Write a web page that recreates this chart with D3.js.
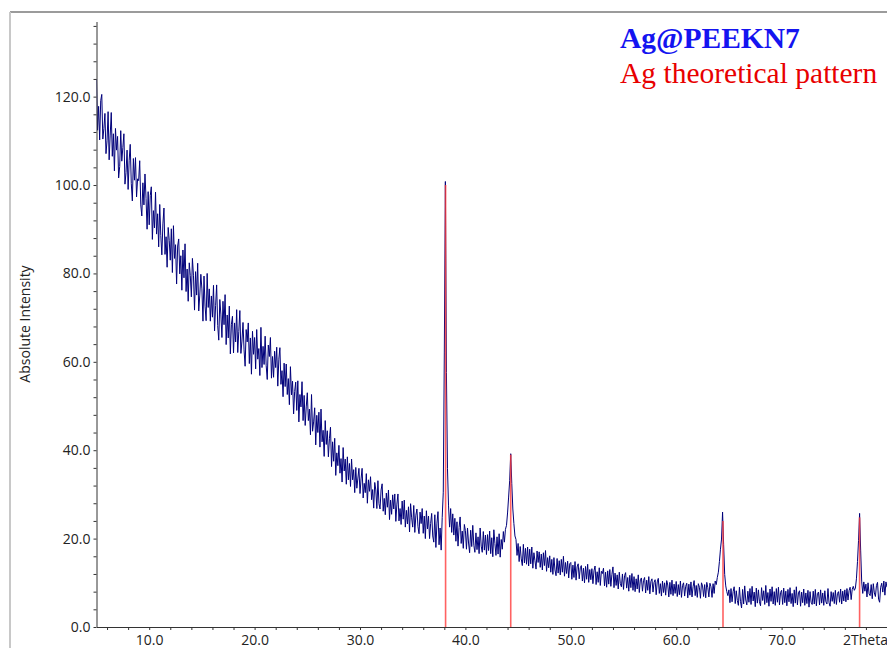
<!DOCTYPE html>
<html>
<head>
<meta charset="utf-8">
<script src="https://cdn.jsdelivr.net/npm/d3@7"></script>
<style>
  body { margin: 0; background: #fff; }
  svg { display: block; }
</style>
</head>
<body>
<div id="chart"></div>
<script>
// measured pattern, 2theta from 5.0 to 80.0 in 0.1 steps
var startAngle = 5.0,
    stepAngle  = 0.1;

var intensity = [
  124.0,112.4,117.8,110.2,119.1,120.5,110.4,112.8,116.2,107.1,
  110.0,116.6,105.7,111.3,116.4,106.5,111.6,103.2,112.8,107.9,
  111.0,101.6,104.2,112.3,105.4,108.5,111.6,100.2,102.8,107.9,
  99.0,105.6,109.2,100.3,96.4,106.0,101.1,106.2,97.3,101.4,
  101.0,105.5,95.5,93.0,100.5,95.5,102.5,97.0,90.0,98.5,
  91.0,97.6,99.6,87.7,94.2,90.3,98.4,88.9,93.5,86.0,
  95.6,88.6,84.2,91.2,94.8,84.3,88.3,81.4,90.4,87.5,
  83.0,90.1,80.2,90.8,83.4,86.5,77.6,86.2,87.8,79.9,
  84.0,76.2,85.3,79.0,86.7,75.9,81.0,73.7,82.4,79.5,
  74.7,83.4,79.6,71.7,80.4,75.1,82.3,71.5,75.1,79.8,
  76.5,69.2,79.4,72.6,69.3,80.0,72.3,76.5,69.2,74.9,
  70.1,77.3,67.0,72.7,77.4,68.2,64.9,74.1,70.8,65.5,
  73.7,68.4,75.2,63.9,70.6,65.4,72.6,61.8,68.5,70.3,
  62.0,68.8,64.5,71.8,62.1,66.9,71.6,61.9,64.7,68.9,
  62.7,59.0,67.3,64.5,68.8,59.6,65.4,57.2,66.9,61.7,
  65.5,58.4,67.3,60.6,63.0,56.9,67.8,58.7,63.5,59.4,
  65.8,59.1,56.0,63.8,61.2,65.5,56.3,61.2,56.5,62.4,
  58.7,63.3,54.5,60.6,63.2,54.9,58.0,52.1,59.7,54.4,
  59.5,52.6,56.2,50.3,58.9,52.5,55.6,48.2,53.3,55.4,
  49.0,55.7,46.4,52.6,49.8,55.5,46.7,52.4,45.6,49.8,
  53.0,46.7,49.3,43.5,52.6,44.3,46.4,49.6,41.2,47.9,
  44.0,48.6,40.7,49.3,41.9,44.5,38.6,46.7,41.3,44.4,
  38.5,42.6,45.2,36.3,41.9,37.5,42.7,34.3,39.4,36.5,
  41.1,34.8,38.1,32.8,40.6,35.3,38.0,32.3,38.5,33.3,
  37.0,31.8,38.0,33.3,35.6,30.4,36.1,31.4,33.7,35.9,
  30.2,33.5,35.9,29.2,32.5,30.4,34.7,28.0,33.3,30.7,
  34.0,28.8,31.1,26.9,32.7,31.0,26.8,33.1,27.9,26.7,
  31.0,32.4,26.2,29.1,25.4,30.3,27.1,31.0,24.3,28.7,
  25.5,29.9,26.7,30.1,23.9,27.8,30.1,24.0,26.8,23.2,
  28.5,24.4,28.7,22.6,26.4,23.3,27.2,21.5,27.9,24.7,
  22.6,27.5,21.4,25.3,26.7,22.7,21.1,26.0,23.4,26.8,
  21.2,25.1,20.0,26.3,22.2,25.1,20.0,23.4,25.7,20.6,
  19.2,25.4,18.0,23.5,26.1,18.6,22.4,17.4,24.8,30.5,
  62.0,100.8,57.6,35.9,27.4,22.6,26.8,21.4,25.6,20.8,
  24.6,19.4,23.8,18.3,22.5,24.9,18.9,21.7,17.8,23.2,
  21.8,17.6,22.4,19.0,16.8,21.9,18.2,23.0,18.5,16.9,
  21.3,17.5,20.4,16.6,22.4,18.3,16.9,21.6,17.4,20.8,
  16.4,20.9,17.3,21.7,16.6,20.2,15.9,22.0,18.9,16.2,
  20.4,16.5,21.1,15.8,19.8,17.6,21.6,19.2,22.1,23.0,
  25.8,29.4,33.1,39.2,32.5,26.7,23.4,20.6,19.8,16.2,
  18.9,14.8,18.2,15.4,13.9,18.7,14.5,17.8,14.2,18.1,
  13.8,17.6,14.3,18.1,13.3,16.8,15.0,13.1,17.2,14.6,
  17.0,13.5,16.5,12.9,16.8,13.9,17.3,12.6,15.7,13.4,
  16.1,12.4,15.3,11.9,15.7,12.9,11.6,15.5,12.2,15.0,
  11.8,15.3,12.4,16.0,11.5,14.6,12.1,14.9,11.1,14.3,
  14.6,10.8,14.0,11.2,14.8,10.6,13.6,14.3,10.9,13.4,
  13.9,10.4,13.3,10.0,13.7,10.8,14.2,10.1,13.0,10.7,
  13.2,9.8,12.7,13.8,9.6,12.5,10.1,13.4,9.4,12.6,
  12.1,13.3,9.3,12.4,9.0,12.7,9.7,13.0,9.2,11.9,
  13.6,8.9,12.2,9.4,11.8,8.6,12.4,9.8,9.1,12.0,
  8.5,11.6,12.3,8.8,11.2,8.1,11.7,8.9,12.1,8.3,
  11.4,8.0,10.9,8.6,11.8,7.8,10.7,11.1,8.1,10.5,
  11.2,7.7,10.6,8.3,11.4,7.5,10.3,10.9,7.9,10.1,
  10.7,7.3,10.2,11.0,7.6,9.8,7.0,10.4,7.8,10.0,
  7.2,10.5,9.5,6.8,10.1,7.4,10.6,7.1,9.7,7.6,
  10.3,6.9,9.6,7.3,10.4,6.7,9.4,10.0,7.0,9.2,
  9.9,6.6,9.7,7.2,10.2,6.8,9.1,10.5,7.1,9.4,
  6.7,9.8,9.0,6.5,10.0,9.3,6.9,9.6,6.6,10.1,
  8.9,6.8,9.9,9.1,6.7,9.8,7.6,10.4,9.6,11.2,
  12.4,14.8,17.6,19.9,26.0,18.6,11.9,9.3,8.0,7.1,
  8.4,5.5,8.7,5.7,8.0,9.1,5.3,8.2,6.0,4.9,
  9.0,5.8,4.3,8.5,5.2,9.3,6.1,5.0,8.1,5.6,
  8.7,5.1,9.2,5.9,7.9,4.6,8.8,5.4,8.4,5.7,
  4.8,8.9,6.0,8.2,5.1,9.4,5.5,7.8,4.7,8.6,
  5.8,9.1,5.2,8.0,4.9,8.7,5.6,9.0,5.0,7.8,
  8.3,5.1,8.8,5.5,8.1,4.8,8.5,5.7,8.9,5.3,
  7.6,4.6,8.4,5.4,9.1,5.0,7.7,8.2,4.7,7.9,
  5.5,8.6,4.9,7.7,5.3,8.3,4.5,8.0,5.6,5.1,
  8.1,5.2,8.5,4.8,7.6,7.9,5.0,8.4,5.4,7.7,
  4.9,8.2,5.7,5.2,8.7,5.5,4.7,8.0,5.8,7.8,
  5.3,8.3,5.1,7.6,8.0,5.6,8.6,5.2,8.1,5.9,
  8.4,5.7,8.7,6.1,8.2,9.0,6.2,8.5,9.2,8.3,
  8.8,10.9,14.8,19.6,25.7,17.4,10.2,7.6,10.2,8.1,
  9.7,6.8,10.0,7.5,7.1,9.6,6.4,9.8,7.7,6.9,
  9.4,10.1,6.3,5.6,9.0,9.9,7.9,10.4,7.2,10.2,
  9.0
];

// Ag reference lines
var refAngles     = [38.12, 44.30, 64.44, 77.40];
var refIntensity  = [100, 39, 24, 24.8];

var xTickValues = d3.range(6, 81, 2);
var xTickLabels = [10, 20, 30, 40, 50, 60, 70];
var yTickValues = d3.range(0, 137, 4);
var yTickLabels = [0, 20, 40, 60, 80, 100, 120];

var legendLabels = ["Ag@PEEKN7", "Ag theoretical pattern"];

var w = 887, h = 648,
    x0 = 96.5, x1 = 887, y0 = 627, y1 = 21.5;

var data = intensity.map(function(v, i) { return [startAngle + i * stepAngle, v]; });

var x = d3.scaleLinear().domain([5, 80]).range([x0, x1]),
    y = d3.scaleLinear().domain([0, 137]).range([y0, y1]);

var vis = d3.select("#chart")
  .append("svg")
  .attr("width", w)
  .attr("height", h);

// frame of the exported picture
vis.append("line")
  .attr("x1", 10).attr("y1", 12).attr("x2", w).attr("y2", 12)
  .style("stroke", "#7a7a7a").style("stroke-width", 1.5);
vis.append("line")
  .attr("x1", 10).attr("y1", 12).attr("x2", 10).attr("y2", h)
  .style("stroke", "#c8c8c8").style("stroke-width", 2);

vis.append("clipPath").attr("id", "plotclip")
  .append("rect")
  .attr("x", x0).attr("y", 0)
  .attr("width", x1 - x0).attr("height", y0);

var line = d3.line()
  .x(function(d) { return x(d[0]); })
  .y(function(d) { return y(d[1]); });

vis.append("path")
  .attr("clip-path", "url(#plotclip)")
  .attr("d", line(data))
  .style("fill", "none")
  .style("stroke", "#00007a")
  .style("stroke-width", 1)
  .style("stroke-linejoin", "miter");

vis.selectAll(".ref")
  .data(refAngles)
  .enter()
  .append("line")
  .attr("class", "ref")
  .attr("x1", function(d) { return x(d); })
  .attr("x2", function(d) { return x(d); })
  .attr("y1", y(0))
  .attr("y2", function(d, i) { return y(refIntensity[i]); })
  .style("stroke", "#ff3b3b")
  .style("stroke-opacity", 0.8)
  .style("stroke-width", 1.6);

var tickFont = "14px 'Open Sans'";

var xAxis = d3.axisBottom(x)
  .tickValues(xTickValues)
  .tickSizeInner(3)
  .tickSizeOuter(0)
  .tickPadding(5)
  .tickFormat(function(d) { return xTickLabels.indexOf(d) >= 0 ? d3.format(".1f")(d) : ""; });

var gx = vis.append("g")
  .attr("transform", "translate(0," + y0 + ")")
  .call(xAxis);

var yAxis = d3.axisLeft(y)
  .tickValues(yTickValues)
  .tickSizeInner(3)
  .tickSizeOuter(0)
  .tickPadding(3)
  .tickFormat(function(d) { return yTickLabels.indexOf(d) >= 0 ? d3.format(".1f")(d) : ""; });

var gy = vis.append("g")
  .attr("transform", "translate(" + x0 + ",0)")
  .call(yAxis);

[gx, gy].forEach(function(g) {
  g.select(".domain").style("stroke", "#333");
  g.selectAll(".tick line").style("stroke", "#333");
  g.selectAll(".tick text").style("font", tickFont).style("fill", "#222");
});

vis.append("text")
  .attr("x", 843)
  .attr("y", 645)
  .style("font", tickFont)
  .style("fill", "#222")
  .text("2Theta");

vis.append("text")
  .attr("transform", "translate(29.5,324) rotate(-90)")
  .attr("text-anchor", "middle")
  .style("font", tickFont)
  .style("fill", "#222")
  .text("Absolute Intensity");

vis.append("text")
  .attr("x", 620).attr("y", 48)
  .style("font", "bold 29.5px 'Liberation Serif'")
  .style("fill", "#1414f0")
  .text(legendLabels[0]);

vis.append("text")
  .attr("x", 620).attr("y", 83)
  .style("font", "29.5px 'Liberation Serif'")
  .style("fill", "#e80000")
  .text(legendLabels[1]);
</script>
</body>
</html>
